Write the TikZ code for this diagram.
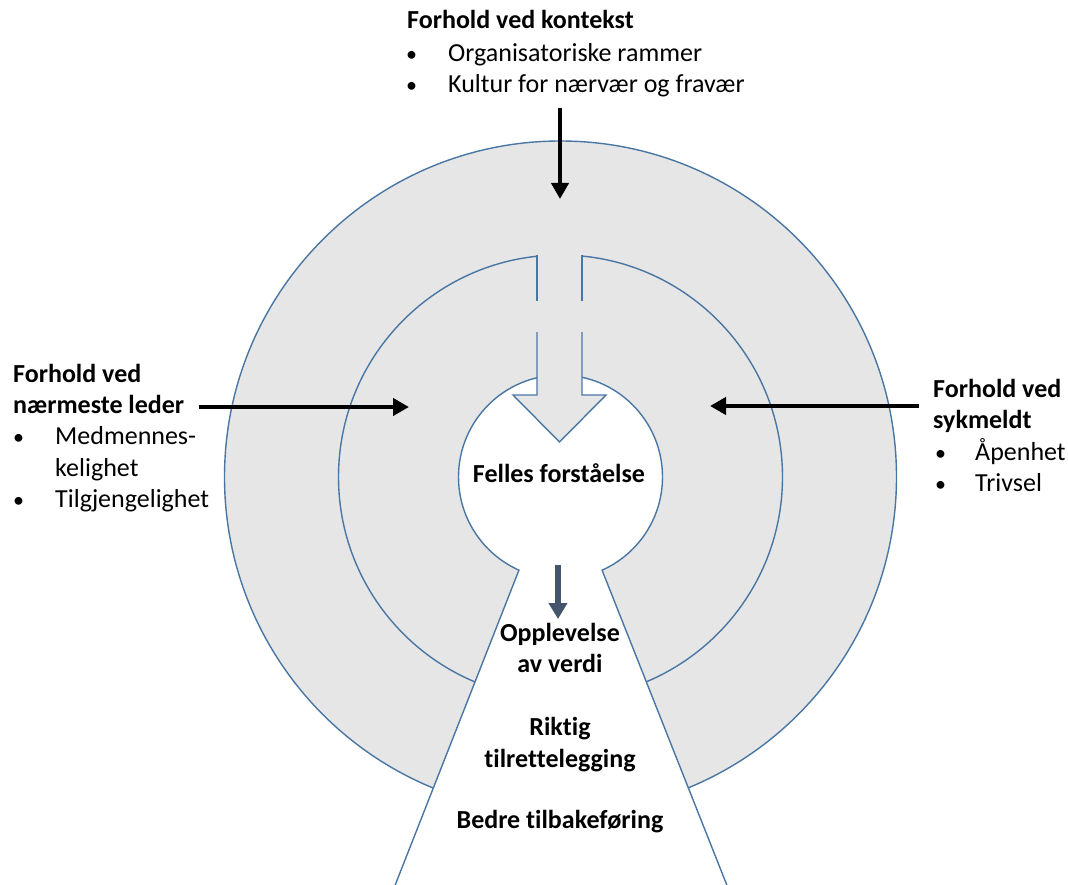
\documentclass[tikz,border=0pt]{standalone}
\usepackage{fontspec}
\setmainfont{Carlito}[Ligatures=NoCommon]
\usetikzlibrary{arrows.meta}
\definecolor{ringgray}{HTML}{E6E6E6}
\definecolor{ringblue}{HTML}{4A76A3}
\definecolor{slate}{HTML}{44546A}
\tikzset{
  txt/.style={inner sep=0pt, font=\fontsize{26}{31}\selectfont},
  bold/.style={txt, font=\fontsize{26}{31}\selectfont\bfseries},
  bul/.style={inner sep=0pt, font=\fontsize{22}{31}\selectfont},
  outline/.style={draw=ringblue, line width=1.4pt},
  bigarrow/.style={line width=4.5pt, -{Triangle[length=16pt,width=17pt]}},
  smallarrow/.style={draw=slate, line width=6pt, -{Triangle[length=16pt,width=18pt]}},
}
\begin{document}
\begin{tikzpicture}[x=1pt,y=-1pt]
\useasboundingbox (0,0) rectangle (1068,885);
% geometry
\coordinate (C) at (560.5,477);
% outer disc
\fill[ringgray] (C) circle (336);
\draw[outline] (C) circle (336);
% middle circle
\draw[outline] (C) circle (222);
% inner white disc
\fill[white] (C) circle (102);
\draw[outline] (C) circle (102);
% wedge
\coordinate (wl) at (519,570);
\coordinate (wr) at (602,570);
\coordinate (bl) at (394,888);
\coordinate (br) at (728,888);
\fill[white] (wl) -- (bl) -- (br) -- (wr) -- cycle;
\draw[outline] (wl) -- (bl);
\draw[outline] (wr) -- (br);
% block arrow inside rings
\fill[ringgray] (537,252) -- (582,252) -- (582,395) -- (606,395) -- (559.5,442) -- (513,395) -- (537,395) -- cycle;
\draw[outline] (537,255.5) -- (537,301);
\draw[outline] (582,255.5) -- (582,301);
\draw[outline, line join=miter] (537,332) -- (537,395) -- (513,395) -- (559.5,442) -- (606,395) -- (582,395) -- (582,332);
% top text
\node[bold, anchor=base west] (kon) at (407,29) {Forhold ved kontekst};
\node[bul, anchor=base west] (b1) at (406,62) {•};
\node[txt, anchor=base west] (org) at (448,62) {Organisatoriske rammer};
\node[bul, anchor=base west] (b2) at (406,93) {•};
\node[txt, anchor=base west] (kul) at (448,93) {Kultur for nærvær og fravær};
% left text
\node[bold, anchor=base west] (l1) at (13,382) {Forhold ved};
\node[bold, anchor=base west] (l2) at (13,413) {nærmeste leder};
\node[bul, anchor=base west] (b3) at (13,444) {•};
\node[txt, anchor=base west] (med) at (55,444) {Medmennes-};
\node[txt, anchor=base west] (kel) at (55,476) {kelighet};
\node[bul, anchor=base west] (b4) at (13,507) {•};
\node[txt, anchor=base west] (tilg) at (55,507) {Tilgjengelighet};
% right text
\node[bold, anchor=base west] (r1) at (933,397) {Forhold ved};
\node[bold, anchor=base west] (r2) at (933,428) {sykmeldt};
\node[bul, anchor=base west] (b5) at (935,460) {•};
\node[txt, anchor=base west] (apen) at (975,460) {Åpenhet};
\node[bul, anchor=base west] (b6) at (935,491) {•};
\node[txt, anchor=base west] (triv) at (975,491) {Trivsel};
% centre texts
\node[bold, anchor=base] (fel) at (559,482) {Felles forståelse};
\node[bold, anchor=base] (opp) at (560,641) {Opplevelse};
\node[bold, anchor=base] (avv) at (560,672) {av verdi};
\node[bold, anchor=base] (rik) at (560,735) {Riktig};
\node[bold, anchor=base] (til) at (560,767) {tilrettelegging};
\node[bold, anchor=base] (bed) at (560,828) {Bedre tilbakeføring};
% arrows
\coordinate (topS) at (560,108);
\coordinate (topE) at (560,199);
\coordinate (leftS) at (199,407);
\coordinate (leftE) at (409,407);
\coordinate (rightS) at (919,406);
\coordinate (rightE) at (710,406);
\coordinate (botS) at (558,565);
\coordinate (botE) at (558,619);
\draw[bigarrow] (topS) -- (topE);
\draw[bigarrow] (leftS) -- (leftE);
\draw[bigarrow] (rightS) -- (rightE);
\draw[smallarrow] (botS) -- (botE);
\end{tikzpicture}
\end{document}
